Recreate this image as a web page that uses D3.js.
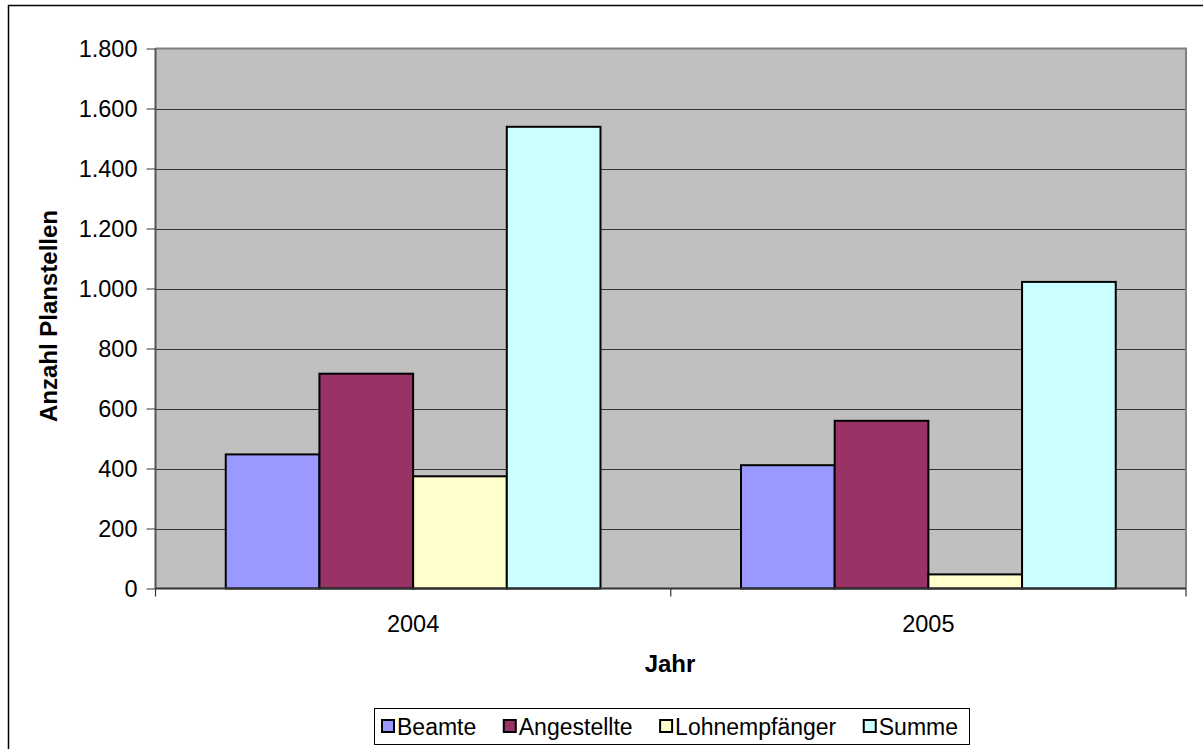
<!DOCTYPE html>
<html><head><meta charset="utf-8">
<script src="https://cdn.jsdelivr.net/npm/d3@7/dist/d3.min.js"></script>
<style>body{margin:0;background:#fff}svg{display:block;font-family:"Liberation Sans",Arial,sans-serif}</style>
</head><body><svg id="c" width="1203" height="749"></svg>
<script>
const categories = ["2004", "2005"];
const seriesNames = ["Beamte", "Angestellte", "Lohnempfänger", "Summe"];
const beamte = [447, 411];
const angestellte = [716, 559];
const lohnempfaenger = [374, 47];
const summe = [1539, 1022];
const yTicks = [0, 200, 400, 600, 800, 1000, 1200, 1400, 1600, 1800];
const colors = ["#9999ff", "#993366", "#ffffcc", "#ccffff"];
const seriesValues = [beamte, angestellte, lohnempfaenger, summe];

const svg = d3.select("#c");
const FF = "Liberation Sans, Arial, sans-serif";
const L = 155.5, R = 1186, T = 48.5, B = 588.5;
// outer frame
svg.append("rect").attr("x", 8.5).attr("y", 5.5).attr("width", 1300).attr("height", 900)
  .attr("fill", "none").attr("stroke", "#000").attr("stroke-width", 1.5);

const x0 = d3.scaleBand().domain(categories).range([L, R]).padding(0);
// 4 bars + gap of 1.5 bar widths => 0.75 bar padding each side
const x1 = d3.scaleBand().domain(seriesNames).range([0, x0.bandwidth()]).paddingOuter(0.75).paddingInner(0);
const y = d3.scaleLinear().domain([0, 1800]).range([B, T]);

svg.append("rect").attr("x", L).attr("y", T).attr("width", R - L).attr("height", B - T).attr("fill", "#c0c0c0");
// gridlines
svg.append("g").selectAll("line").data(yTicks.filter(d => d > 0 && d < 1800)).join("line")
  .attr("x1", L).attr("x2", R).attr("y1", d => Math.round(y(d)) + 0.5).attr("y2", d => Math.round(y(d)) + 0.5)
  .attr("stroke", "#333").attr("stroke-width", 1);
// plot border top/right
svg.append("path").attr("d", `M${L},${T}H${R}V${B}`).attr("fill", "none").attr("stroke", "#808080").attr("stroke-width", 2);

// bars
const g = svg.append("g");
categories.forEach((c, ci) => {
  seriesNames.forEach((s, si) => {
    const v = seriesValues[si][ci];
    g.append("rect")
      .attr("x", x0(c) + x1(s)).attr("width", x1.bandwidth())
      .attr("y", y(v)).attr("height", y(0) - y(v))
      .attr("fill", colors[si]).attr("stroke", "#000").attr("stroke-width", 2);
  });
});

// y axis
const yAxis = d3.axisLeft(y).tickValues(yTicks).tickSize(9).tickPadding(9)
  .tickFormat(d => d3.format(",")(d).replace(/,/g, "."));
const ya = svg.append("g").attr("transform", `translate(${L},0)`).call(yAxis);
ya.select(".domain").attr("stroke", "#555").attr("stroke-width", 2).attr("d", `M0,${B}V${T}`);
ya.selectAll(".tick line").attr("stroke", "#333");
ya.selectAll("text").attr("font-size", 23.5).attr("fill", "#000").style("font-family", FF).attr("dy", "0.35em");

// x axis
svg.append("line").attr("x1", L).attr("x2", R).attr("y1", B).attr("y2", B).attr("stroke", "#333").attr("stroke-width", 2);
const bounds = [L, x0(categories[1]), R];
svg.append("g").selectAll("line").data(bounds).join("line")
  .attr("x1", d => d).attr("x2", d => d).attr("y1", B).attr("y2", B + 8).attr("stroke", "#333").attr("stroke-width", 1.2);
svg.append("g").selectAll("text").data(categories).join("text")
  .attr("x", d => x0(d) + x0.bandwidth() / 2).attr("y", 632).attr("text-anchor", "middle")
  .attr("font-size", 23.5).text(d => d);

// axis titles
svg.append("text").attr("x", 670).attr("y", 672).attr("text-anchor", "middle")
  .attr("font-size", 24).attr("font-weight", "bold").text("Jahr");
svg.append("text").attr("transform", "translate(57,316) rotate(-90)").attr("text-anchor", "middle")
  .attr("font-size", 24).attr("font-weight", "bold").text("Anzahl Planstellen");

// legend
const lg = svg.append("g");
lg.append("rect").attr("x", 374.5).attr("y", 708.5).attr("width", 595).attr("height", 36)
  .attr("fill", "#fff").attr("stroke", "#000").attr("stroke-width", 1);
const items = lg.selectAll("g.it").data(seriesNames).join("g").attr("class", "it");
items.append("rect").attr("y", 720).attr("width", 12).attr("height", 12)
  .attr("fill", (d, i) => colors[i]).attr("stroke", "#000").attr("stroke-width", 2);
items.append("text").attr("y", 734.5).attr("font-size", 23).attr("x", 15).text(d => d);
const widths = items.nodes().map(n => n.querySelector("text").getComputedTextLength() + 15);
const start = 382, end = 958;
const gap = (end - start - d3.sum(widths)) / (widths.length - 1);
let cx = start;
items.each(function(d, i) {
  d3.select(this).attr("transform", `translate(${cx},0)`);
  cx += widths[i] + gap;
});
</script></body></html>
